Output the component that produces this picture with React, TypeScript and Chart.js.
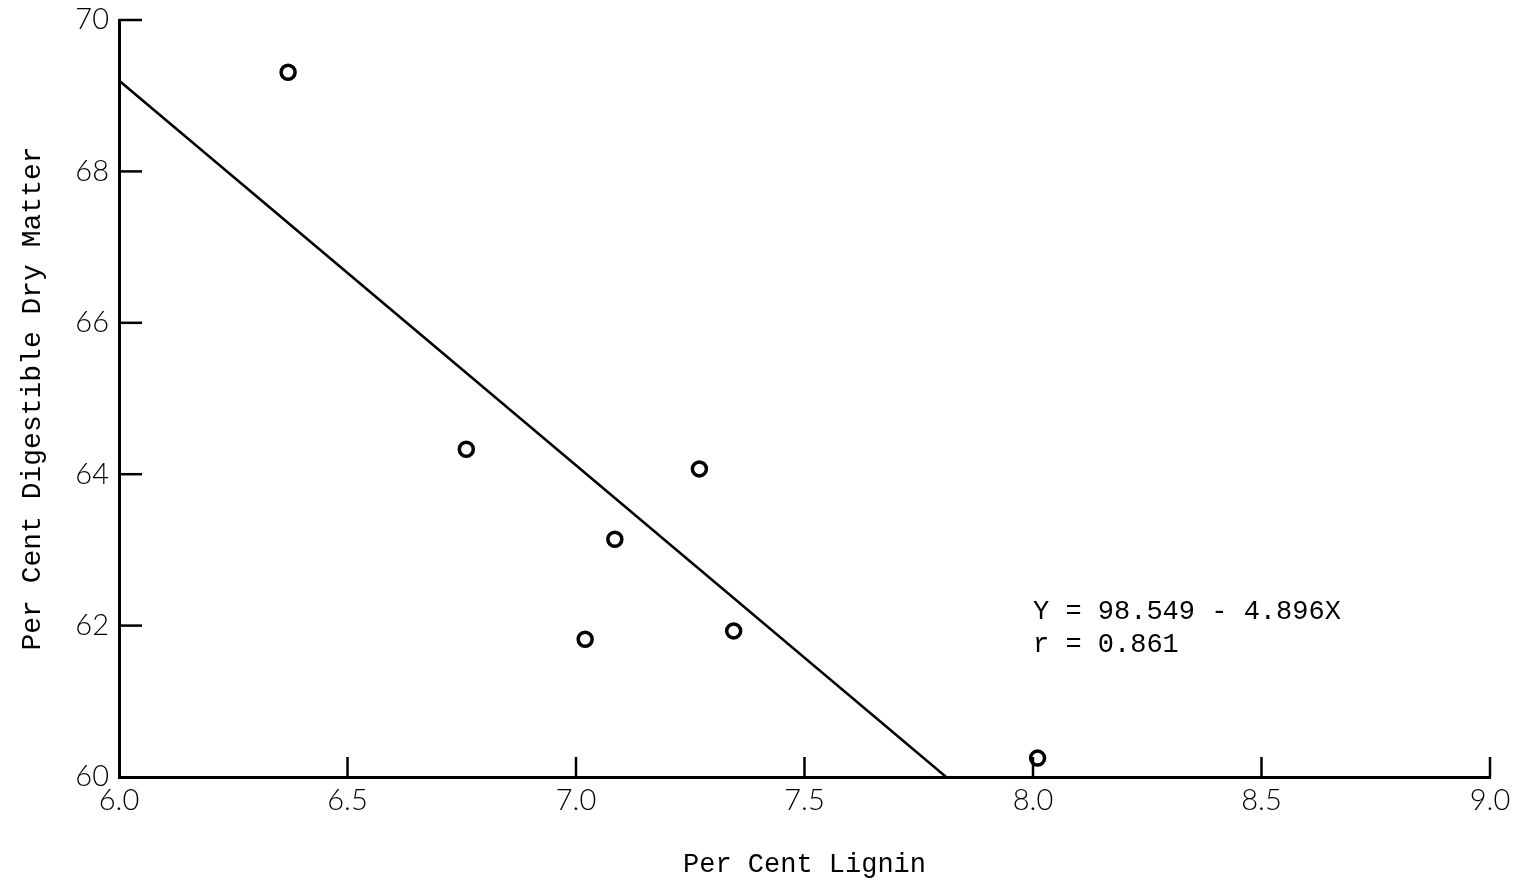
import React, { useEffect, useRef } from "react";
import { Chart, registerables } from "chart.js";

Chart.register(...registerables);

const ligninValues = [6.37, 6.76, 7.02, 7.085, 7.27, 7.345, 8.01];
const ddmValues = [69.31, 64.33, 61.82, 63.14, 64.07, 61.93, 60.25];
const fitLineX = [6.0, 7.81];
const fitLineY = [69.2, 60.0];
const xTickValues = [6.0, 6.5, 7.0, 7.5, 8.0, 8.5, 9.0];
const yTickValues = [60, 62, 64, 66, 68, 70];
const equationLines = ["Y = 98.549 - 4.896X", "r = 0.861"];
const equationAnchor = { x: 8.0, y: [62.18, 61.75] };

const W = 1523;
const H = 882;

const insideTicks = {
  id: "insideTicks",
  afterDraw(chart: any) {
    const { ctx, chartArea, scales } = chart;
    const xs = scales.x;
    const ys = scales.y;
    ctx.save();
    ctx.strokeStyle = "#000";
    ctx.lineWidth = 2.5;
    ctx.lineCap = "butt";
    xTickValues.slice(1).forEach((v) => {
      const px = xs.getPixelForValue(v);
      ctx.beginPath();
      ctx.moveTo(px, chartArea.bottom);
      ctx.lineTo(px, chartArea.bottom - 20);
      ctx.stroke();
    });
    yTickValues.slice(1).forEach((v) => {
      const py = ys.getPixelForValue(v);
      ctx.beginPath();
      ctx.moveTo(chartArea.left, py);
      ctx.lineTo(chartArea.left + 23, py);
      ctx.stroke();
    });
    ctx.fillStyle = "#000";
    ctx.font = "27px 'Liberation Mono'";
    ctx.textAlign = "left";
    ctx.textBaseline = "middle";
    equationLines.forEach((t, i) => {
      ctx.fillText(t, xs.getPixelForValue(equationAnchor.x), ys.getPixelForValue(equationAnchor.y[i]));
    });
    ctx.restore();
  },
};

export default function App() {
  const ref = useRef<HTMLCanvasElement | null>(null);
  useEffect(() => {
    if (!ref.current) return;
    const chart = new Chart(ref.current, {
      type: "scatter",
      data: {
        datasets: [
          {
            type: "line",
            data: fitLineX.map((x, i) => ({ x, y: fitLineY[i] })),
            borderColor: "#000",
            borderWidth: 2.5,
            pointRadius: 0,
            fill: false,
          } as any,
          {
            data: ligninValues.map((x, i) => ({ x, y: ddmValues[i] })),
            pointStyle: "circle",
            pointRadius: 7,
            borderWidth: 3.5,
            borderColor: "#000",
            backgroundColor: "#fff",
          },
        ],
      },
      options: {
        animation: false,
        responsive: false,
        devicePixelRatio: 1,
        layout: { padding: { top: 20, right: 33, left: 0, bottom: 0 } },
        plugins: { legend: { display: false }, tooltip: { enabled: false } },
        scales: {
          x: {
            type: "linear",
            min: 6,
            max: 9,
            afterFit: (s: any) => {
              s.height = 105;
            },
            afterBuildTicks: (s: any) => {
              s.ticks = xTickValues.map((v) => ({ value: v }));
            },
            ticks: {
              callback: (v: any) => Number(v).toFixed(1),
              font: { family: "Lato", size: 29, weight: "300" },
              color: "#000",
              padding: 6,
              maxRotation: 0,
              autoSkip: false,
            },
            grid: { drawOnChartArea: false, drawTicks: false },
            border: { color: "#000", width: 3 },
            title: {
              display: true,
              text: "Per Cent Lignin",
              font: { family: "Liberation Mono", size: 27 },
              color: "#000",
              padding: { top: 0, bottom: 1 },
            },
          },
          y: {
            type: "linear",
            min: 60,
            max: 70,
            afterFit: (s: any) => {
              s.width = 119;
            },
            afterBuildTicks: (s: any) => {
              s.ticks = yTickValues.map((v) => ({ value: v }));
            },
            ticks: {
              font: { family: "Lato", size: 29, weight: "300", lineHeight: 0.6 },
              color: "#000",
              padding: 10,
            },
            grid: { drawOnChartArea: false, drawTicks: false },
            border: { color: "#000", width: 3 },
            title: {
              display: true,
              text: "Per Cent Digestible Dry Matter",
              font: { family: "Liberation Mono", size: 28 },
              color: "#000",
              padding: { top: 16, bottom: 0 },
            },
          },
        },
      },
      plugins: [insideTicks],
    });
    return () => chart.destroy();
  }, []);
  return (
    <div style={{ position: "absolute", left: 0, top: 0, width: W, height: H, background: "#fff" }}>
      <canvas ref={ref} width={W} height={H} style={{ display: "block" }} />
    </div>
  );
}
